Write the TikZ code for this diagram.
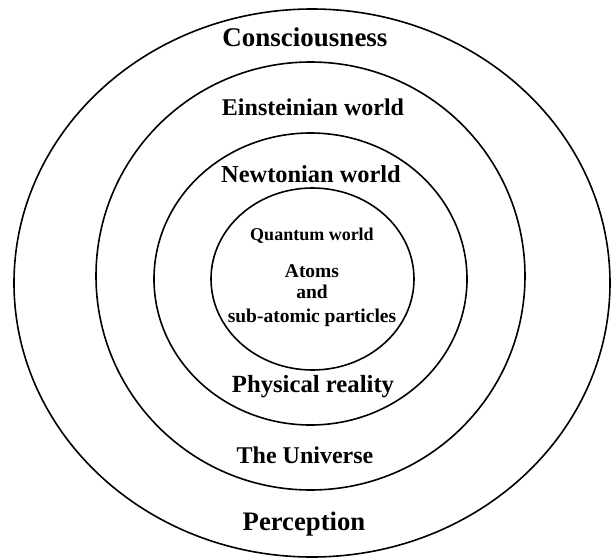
\documentclass[tikz,border=0pt]{standalone}
\usepackage{fontspec}
\setmainfont{Liberation Serif}
\usepackage{tikz}

\begin{document}
\begin{tikzpicture}[x=1pt,y=-1pt,
  ring/.style={draw=black,line width=1.6pt},
  lbl/.style={anchor=base,inner sep=0pt,font=\fontsize{#1}{29}\selectfont\bfseries},
  qlbl/.style={anchor=base,inner sep=0pt,font=\fontsize{18}{21}\selectfont\bfseries},
  albl/.style={anchor=base,inner sep=0pt,font=\fontsize{19.5}{23}\selectfont\bfseries}]
  \useasboundingbox (0,0) rectangle (614,560);
  % rings, outermost first
  \draw[ring] (312,283) ellipse [x radius=298,y radius=274];
  \draw[ring] (310.5,276) ellipse [x radius=214.5,y radius=214];
  \draw[ring] (310.5,279) ellipse [x radius=156.5,y radius=146];
  \draw[ring] (312.5,279) ellipse [x radius=101.5,y radius=91];
  % labels
  \node[lbl=27] (consc) at (305,46) {Consciousness};
  \node[lbl=24] (einst) at (313,115) {Einsteinian world};
  \node[lbl=24.4] (newt) at (311,182) {Newtonian world};
  \node[qlbl] (quant) at (312,240) {Quantum world};
  \node[albl] (atoms) at (312,277) {Atoms};
  \node[albl] (and) at (312,298) {and};
  \node[albl] (sub) at (312,322) {sub-atomic particles};
  \node[lbl=24.7] (phys) at (313,392) {Physical reality};
  \node[lbl=24] (univ) at (305,463) {The Universe};
  \node[lbl=26.7] (perc) at (304,530) {Perception};
\end{tikzpicture}
\end{document}
